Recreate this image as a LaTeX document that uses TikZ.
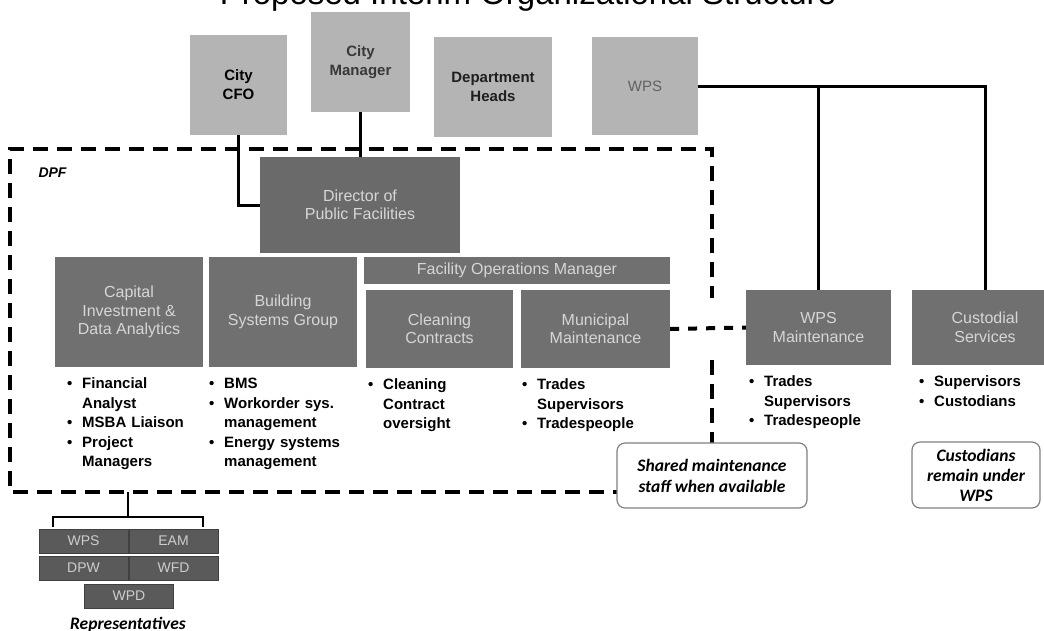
\documentclass[tikz,border=0pt]{standalone}
\usepackage{fontspec}
\setmainfont{Liberation Sans}
\newfontfamily\calibri{Carlito}
\usetikzlibrary{positioning}
\definecolor{grisclaro}{HTML}{B4B4B4}
\definecolor{grisoscuro}{HTML}{707070}
\definecolor{grisrep}{HTML}{5A5A5A}
\definecolor{textoclaro}{HTML}{D6D6D6}
\tikzstyle{topbox} = [rectangle, fill=grisclaro, inner sep=0pt, align=center, font=\fontsize{15}{19}\selectfont\bfseries]
\tikzstyle{darkbox} = [rectangle, fill=grisoscuro, inner sep=0pt, align=center, text=textoclaro, font=\fontsize{16}{18.5}\selectfont]
\tikzstyle{repbox} = [rectangle, fill=grisrep, draw=black!75, line width=0.8pt, inner sep=0pt, minimum width=89pt, minimum height=24pt, text=textoclaro!90!gray, font=\fontsize{14}{16}\selectfont]
\tikzstyle{list} = [anchor=north west, inner sep=0pt, align=left, text width=160pt, font=\fontsize{15}{19.5}\selectfont\bfseries]
\tikzstyle{callout} = [rectangle, rounded corners=8pt, draw=gray, fill=white, line width=1.2pt, align=center, inner sep=0pt, font=\calibri\fontsize{17.5}{21}\selectfont\bfseries\itshape]
\tikzstyle{line} = [draw, line width=3pt]
\tikzstyle{dashline} = [draw, line width=4pt, dash pattern=on 15pt off 9pt]
\tikzstyle{dashshort} = [draw, line width=4pt, dash pattern=on 9pt off 9pt]
\newlength\bind
\setlength\bind{15pt}
\newcommand\bitem[1]{\strut\makebox[\bind][l]{\textbullet}#1}
\newcommand\bcont[1]{\hspace*{\bind}#1}
\begin{document}
\begin{tikzpicture}[x=1pt, y=-1pt]
  \useasboundingbox (0,0) rectangle (1044,630);

  % Titulo (cortado arriba)
  \node (title) [anchor=base, font=\fontsize{33}{36}\selectfont] at (528,4) {Proposed Interim Organizational Structure};

  % Bloques superiores
  \node (cfo) [topbox, minimum width=97pt, minimum height=100pt] at (238.5,85) {City\\CFO};
  \node (cmgr) [topbox, minimum width=99pt, minimum height=100pt, text=black!78] at (360.5,62) {City\\Manager};
  \node (dhead) [topbox, minimum width=118pt, minimum height=100pt, text=black!88] at (493,87) {Department\\Heads};
  \node (wps) [topbox, minimum width=106pt, minimum height=98pt, text=black!62, font=\fontsize{15}{19}\selectfont] at (645,86) {WPS};

  % Bloques de DPF
  \node (dir) [darkbox, minimum width=200pt, minimum height=96pt, fill=grisoscuro!95!black] at (360,205) {Director of\\Public Facilities};
  \node (cap) [darkbox, minimum width=148pt, minimum height=110pt] at (129,312) {Capital\\Investment \&\\Data Analytics};
  \node (bsg) [darkbox, minimum width=148pt, minimum height=110pt] at (283,312) {Building\\Systems Group};
  \node (fom) [darkbox, minimum width=306pt, minimum height=27pt] at (517,270.5) {Facility Operations Manager};
  \node (clean) [darkbox, minimum width=147pt, minimum height=78pt] at (439.5,329) {Cleaning\\Contracts};
  \node (muni) [darkbox, minimum width=149pt, minimum height=78pt] at (595.5,329) {Municipal\\Maintenance};

  % Bloques de WPS
  \node (wpsm) [darkbox, minimum width=145pt, minimum height=75pt] at (818.5,327.5) {WPS\\Maintenance};
  \node (cust) [darkbox, minimum width=146pt, minimum height=75pt] at (985,327.5) {Custodial\\Services};

  % Listas
  \node (caplist) [list] at (67,375) {\bitem{Financial}\\\bcont{Analyst}\\\bitem{MSBA Liaison}\\\bitem{Project}\\\bcont{Managers}};
  \node (bsglist) [list] at (209,375) {\bitem{BMS}\\\bitem{Workorder sys.}\\\bcont{management}\\\bitem{Energy systems}\\\bcont{management}};
  \node (cleanlist) [list] at (368,376) {\bitem{Cleaning}\\\bcont{Contract}\\\bcont{oversight}};
  \node (munilist) [list] at (522,376) {\bitem{Trades}\\\bcont{Supervisors}\\\bitem{Tradespeople}};
  \node (wpsmlist) [list] at (749,373) {\bitem{Trades}\\\bcont{Supervisors}\\\bitem{Tradespeople}};
  \node (custlist) [list] at (919,373) {\bitem{Supervisors}\\\bitem{Custodians}};

  % Lineas de mando
  \draw [line] (cfo.south) |- (dir.west);
  \draw [line] (cmgr.south) -- (cmgr.south |- dir.north);
  \draw [line] (wps.east) -| (cust.north);
  \draw [line] (wpsm.north) -- (wpsm.north |- wps.east);
  \draw [dashshort] (muni.east) -- (wpsm.west);

  % Recuadro DPF
  \coordinate (dpfgap) at (712,360);
  \coordinate (dpfse) at (712,492);
  \coordinate (dpfnw) at (10,149);
  \draw [dashline] (dpfgap) -- (dpfse) -- (dpfnw |- dpfse) -- (dpfnw) -- (dpfse |- dpfnw) -- (712,298);
  \node (dpf) [anchor=west, font=\fontsize{14}{16}\selectfont\bfseries\itshape] at (35,173) {DPF};

  % Notas
  \node (shared) [callout, minimum width=190pt, minimum height=65pt] at (712,475.5) {Shared maintenance\\staff when available};
  \node (remain) [callout, minimum width=128pt, minimum height=66pt, font=\calibri\fontsize{17.5}{20}\selectfont\bfseries\itshape] at (976,475) {Custodians\\remain under\\WPS};

  % Representantes
  \node (rwps) [repbox] at (83.5,541) {WPS};
  \node (ream) [repbox] at (173.5,541) {EAM};
  \node (rdpw) [repbox] at (83.5,568) {DPW};
  \node (rwfd) [repbox] at (173.5,568) {WFD};
  \node (rwpd) [repbox] at (129,596) {WPD};
  \node (reptext) [anchor=base, font=\calibri\fontsize{17.5}{20}\selectfont\bfseries\itshape] at (128,629) {Representatives};
  \coordinate (llave) at (128,517);
  \draw [line width=2pt] (llave |- dpfse) -- (llave);
  \draw [line width=2pt] (53,527) -- (53,517) -- (203,517) -- (203,527);

\end{tikzpicture}
\end{document}
